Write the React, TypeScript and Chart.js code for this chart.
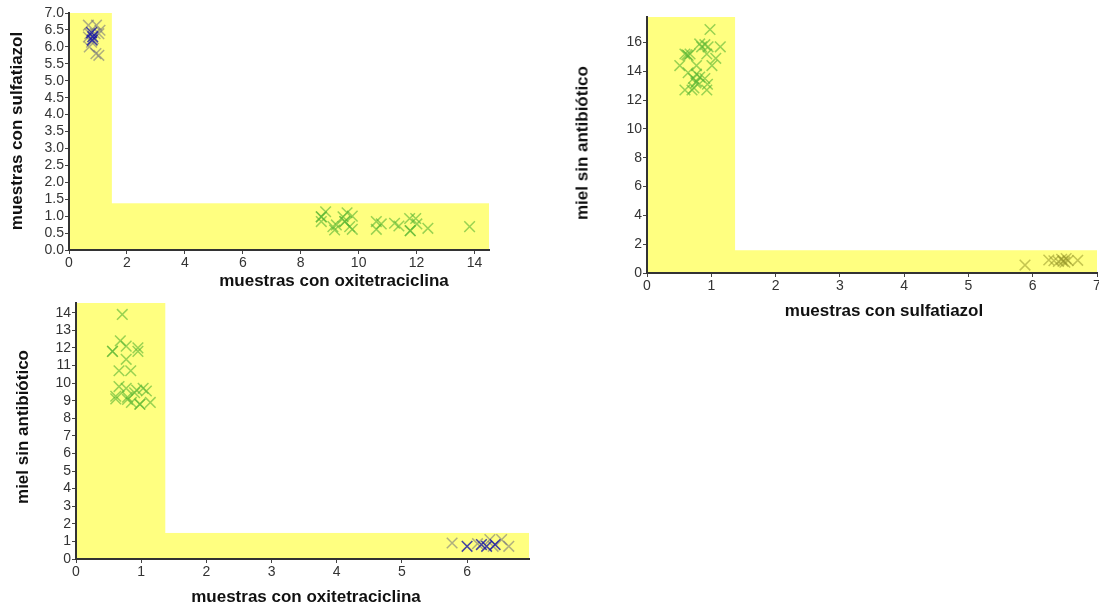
import React, { useEffect, useRef } from "react";
import { Chart, registerables } from "chart.js";

Chart.register(...registerables);

// ---------- data ----------
// Chart 1: oxitetraciclina (x) vs sulfatiazol (y)
const c1GrayX = [0.67, 0.95, 1.07, 0.72, 0.9, 0.67, 0.84, 0.78, 0.7, 1.03, 0.93, 1.03];
const c1GrayY = [6.64, 6.64, 6.49, 6.39, 6.39, 6.29, 6.24, 6.14, 6.0, 6.39, 5.8, 5.75];
const c1BlueX = [0.78, 0.82, 0.8];
const c1BlueY = [6.42, 6.3, 6.2];
const c1GreenX = [8.71, 8.86, 8.71, 9.11, 9.17, 9.23, 9.46, 9.6, 9.78, 9.52, 9.69, 9.78, 10.61, 10.78, 10.61, 11.24, 11.39, 11.76, 11.97, 12.01, 11.78, 12.39, 13.83, 8.71, 9.52, 11.78];
const c1GreenY = [0.98, 1.13, 0.84, 0.69, 0.59, 0.74, 0.98, 1.1, 1.0, 0.84, 0.69, 0.61, 0.84, 0.77, 0.61, 0.79, 0.71, 0.93, 0.93, 0.77, 0.57, 0.64, 0.69, 0.98, 0.84, 0.57];
const c1Zone = [1.48, 1.38]; // vertical band x-limit, horizontal band y-limit
const c1XRange = [0, 14.5, 2];
const c1YRange = [0, 7.0, 0.5];

// Chart 2: sulfatiazol (x) vs miel sin antibiótico (y)
const c2GreenX = [0.98, 0.82, 0.9, 0.95, 1.14, 0.85, 0.59, 0.64, 0.93, 1.07, 0.51, 0.77, 1.01, 0.64, 0.77, 0.72, 0.82, 0.9, 0.76, 0.94, 0.59, 0.7, 0.73, 0.93, 0.62, 0.67, 0.77];
const c2GreenY = [16.9, 15.9, 15.85, 15.7, 15.7, 15.7, 15.2, 15.1, 15.2, 14.9, 14.4, 14.4, 14.4, 13.9, 13.8, 13.5, 13.6, 13.5, 13.2, 13.1, 12.7, 12.7, 12.85, 12.7, 15.15, 15.2, 13.3];
const c2OliveX = [5.88, 6.25, 6.33, 6.4, 6.45, 6.5, 6.52, 6.55, 6.7, 6.47];
const c2OliveY = [0.55, 0.9, 0.85, 0.8, 0.95, 0.75, 1.0, 0.85, 0.88, 0.82];
const c2Zone = [1.37, 1.58];
const c2XRange = [0, 7, 1];
const c2YRange = [0, 17.77, 2];

// Chart 3: oxitetraciclina (x) vs miel sin antibiótico (y)
const c3GreenX = [0.71, 0.68, 0.77, 0.56, 0.95, 0.95, 0.77, 0.66, 0.84, 0.66, 0.77, 0.93, 1.03, 1.08, 0.61, 0.61, 0.79, 0.9, 0.85, 0.98, 1.14, 0.79, 0.56, 0.98];
const c3GreenY = [13.9, 12.4, 12.1, 11.8, 12.0, 11.8, 11.35, 10.7, 10.7, 9.8, 9.7, 9.6, 9.7, 9.55, 9.25, 9.1, 9.07, 9.45, 8.9, 8.8, 8.9, 9.2, 11.8, 8.8];
const c3GrayX = [5.77, 6.35, 6.53, 6.64, 6.16, 6.4];
const c3GrayY = [0.91, 1.1, 1.1, 0.72, 0.87, 0.72];
const c3BlueX = [6.0, 6.22, 6.3, 6.43];
const c3BlueY = [0.72, 0.82, 0.72, 0.82];
const c3Zone = [1.37, 1.48];
const c3XRange = [0, 6.95, 1];
const c3YRange = [0, 14.55, 1];

// ---------- styles ----------
const GREEN = "rgba(85,180,50,0.6)";
const BLUE = "rgba(20,20,170,0.8)";
const GRAY = "rgba(110,110,125,0.55)";
const OLIVE = "rgba(150,150,40,0.55)";
const YELLOW = "rgb(255,255,128)";
const FONT = "'Liberation Sans', Arial, sans-serif";

const pts = (xs: number[], ys: number[]) => xs.map((x, i) => ({ x, y: ys[i] }));

const zonePlugin = (zone: number[]) => ({
  id: "zone",
  beforeDraw(chart: any) {
    const { ctx, scales } = chart;
    const xs = scales.x;
    const ys = scales.y;
    const left = xs.getPixelForValue(xs.min);
    const right = xs.getPixelForValue(xs.max);
    const top = ys.getPixelForValue(ys.max);
    const bottom = ys.getPixelForValue(ys.min);
    const vx = xs.getPixelForValue(zone[0]);
    const hy = ys.getPixelForValue(zone[1]);
    ctx.save();
    ctx.fillStyle = YELLOW;
    ctx.fillRect(left, top, vx - left, bottom - top);
    ctx.fillRect(left, hy, right - left, bottom - hy);
    ctx.restore();
  },
});

type Series = { xs: number[]; ys: number[]; color: string };

type Cfg = {
  left: number;
  top: number;
  width: number;
  height: number;
  yAxisW: number;
  xAxisH: number;
  padTop: number;
  padRight: number;
  xRange: number[];
  yRange: number[];
  yDecimals: number;
  zone: number[];
  series: Series[];
};

function Scatter({ cfg }: { cfg: Cfg }) {
  const ref = useRef<HTMLCanvasElement | null>(null);
  useEffect(() => {
    if (!ref.current) return;
    const tickFont = { family: FONT, size: 14 };
    const grid = {
      display: true,
      drawOnChartArea: false,
      drawTicks: true,
      tickLength: 4,
      color: "#444",
      lineWidth: 1,
    };
    const border = { display: true, color: "#333", width: 2 };
    const chart = new Chart(ref.current, {
      type: "scatter",
      data: {
        datasets: cfg.series.map((s) => ({
          data: pts(s.xs, s.ys),
          pointStyle: "crossRot",
          pointRadius: 7.5,
          pointBorderWidth: 1.5,
          borderColor: s.color,
          backgroundColor: s.color,
          pointHoverRadius: 7.5,
        })),
      },
      options: {
        animation: false,
        responsive: false,
        layout: { autoPadding: false, padding: { top: cfg.padTop, right: cfg.padRight, left: 0, bottom: 0 } },
        plugins: { legend: { display: false }, tooltip: { enabled: false } },
        scales: {
          x: {
            type: "linear",
            min: cfg.xRange[0],
            max: cfg.xRange[1],
            grid,
            border,
            ticks: {
              stepSize: cfg.xRange[2],
              includeBounds: false,
              autoSkip: false,
              color: "#333",
              font: tickFont,
              padding: 1,
              maxRotation: 0,
            },
            afterFit: (s: any) => {
              s.height = cfg.xAxisH;
              s.paddingLeft = 0;
              s.paddingRight = 0;
            },
          },
          y: {
            type: "linear",
            min: cfg.yRange[0],
            max: cfg.yRange[1],
            grid,
            border,
            ticks: {
              stepSize: cfg.yRange[2],
              includeBounds: false,
              autoSkip: false,
              color: "#333",
              font: tickFont,
              padding: 1,
              callback: (v: any) => Number(v).toFixed(cfg.yDecimals),
            },
            afterFit: (s: any) => {
              s.width = cfg.yAxisW;
              s.paddingTop = 0;
              s.paddingBottom = 0;
            },
          },
        },
      },
      plugins: [zonePlugin(cfg.zone)],
    } as any);
    return () => chart.destroy();
  }, [cfg]);
  return (
    <canvas
      ref={ref}
      width={cfg.width}
      height={cfg.height}
      style={{ position: "absolute", left: cfg.left, top: cfg.top, width: cfg.width, height: cfg.height }}
    />
  );
}

const titleStyle: React.CSSProperties = {
  position: "absolute",
  fontFamily: FONT,
  fontWeight: "bold",
  fontSize: 17,
  color: "#111",
  whiteSpace: "nowrap",
  lineHeight: 1,
};

function Title({ text, cx, cy, rotate }: { text: string; cx: number; cy: number; rotate?: boolean }) {
  return (
    <div
      style={{
        ...titleStyle,
        left: cx,
        top: cy,
        transform: `translate(-50%, -50%)${rotate ? " rotate(-90deg)" : ""}`,
      }}
    >
      {text}
    </div>
  );
}

// dataset order: first dataset is drawn on top
const cfg1: Cfg = {
  left: 0, top: 0, width: 500, height: 300,
  yAxisW: 69, xAxisH: 50, padTop: 13, padRight: 11,
  xRange: c1XRange, yRange: c1YRange, yDecimals: 1, zone: c1Zone,
  series: [
    { xs: c1BlueX, ys: c1BlueY, color: BLUE },
    { xs: c1GrayX, ys: c1GrayY, color: GRAY },
    { xs: c1GreenX, ys: c1GreenY, color: GREEN },
  ],
};

const cfg2: Cfg = {
  left: 570, top: 0, width: 529, height: 330,
  yAxisW: 77, xAxisH: 57, padTop: 17, padRight: 2,
  xRange: c2XRange, yRange: c2YRange, yDecimals: 0, zone: c2Zone,
  series: [
    { xs: c2GreenX, ys: c2GreenY, color: GREEN },
    { xs: c2OliveX, ys: c2OliveY, color: OLIVE },
  ],
};

const cfg3: Cfg = {
  left: 0, top: 290, width: 540, height: 316,
  yAxisW: 76, xAxisH: 47, padTop: 13, padRight: 11,
  xRange: c3XRange, yRange: c3YRange, yDecimals: 0, zone: c3Zone,
  series: [
    { xs: c3BlueX, ys: c3BlueY, color: BLUE },
    { xs: c3GreenX, ys: c3GreenY, color: GREEN },
    { xs: c3GrayX, ys: c3GrayY, color: GRAY },
  ],
};

export default function App() {
  return (
    <div style={{ position: "fixed", left: 0, top: 0, width: 1099, height: 606, background: "#fff", overflow: "hidden" }}>
      <Scatter cfg={cfg1} />
      <Scatter cfg={cfg2} />
      <Scatter cfg={cfg3} />
      <Title text="muestras con sulfatiazol" cx={16} cy={131} rotate />
      <Title text="muestras con oxitetraciclina" cx={334} cy={280} />
      <Title text="miel sin antibiótico" cx={582} cy={143} rotate />
      <Title text="muestras con sulfatiazol" cx={884} cy={310} />
      <Title text="miel sin antibiótico" cx={22} cy={427} rotate />
      <Title text="muestras con oxitetraciclina" cx={306} cy={596} />
    </div>
  );
}
